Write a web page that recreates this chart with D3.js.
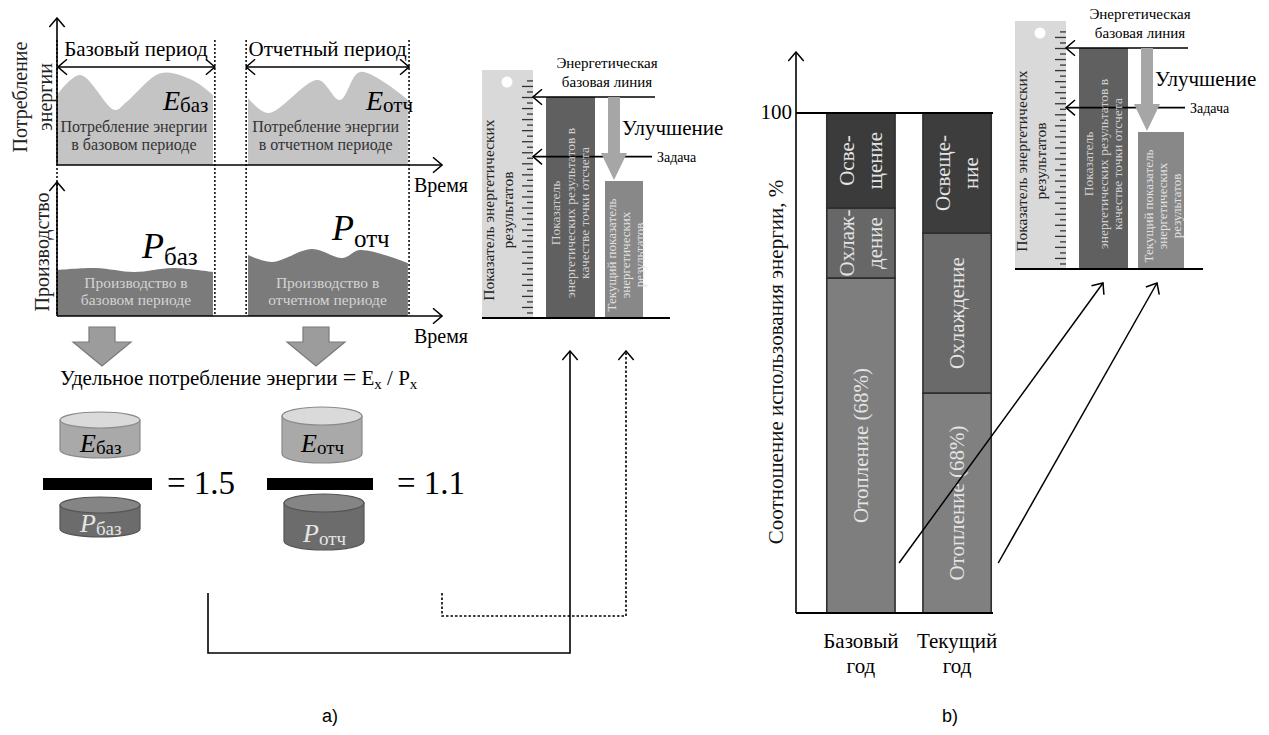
<!DOCTYPE html>
<html>
<head>
<meta charset="utf-8">
<script src="https://cdn.jsdelivr.net/npm/d3@7"></script>
<style>
  body { margin: 0; background: #fff; }
</style>
</head>
<body>
<svg id="chart" width="1269" height="735" font-family="'Liberation Serif', 'DejaVu Serif', serif"></svg>
<script>
// ---- data ----
var periods = ["Базовый период", "Отчетный период"];
var periodSpans = [[0, 40.9], [49, 91.2]];          // time units
var energyBase = [[0, 70], [6, 90], [15, 55], [18, 63], [27, 92], [35, 85], [40.4, 70]];
var energyRep  = [[49.5, 67], [54.7, 52], [67.6, 85], [73.3, 65], [78.5, 93], [90.9, 65]];
var prodBase   = [[0, 46], [10, 48], [20, 44], [30, 48], [40.4, 44]];
var prodRep    = [[49.5, 61], [55.7, 54], [66, 67], [74, 58], [78.5, 66], [90.9, 53]];
var ratios = [1.5, 1.1];
var epiLevels = [100, 73, 62];   // baseline, target, current
var years = ["Базовый год", "Текущий год"];
var uses = ["Отопление", "Охлаждение", "Освещение"];
var shareBase = [67, 14, 19];
var shareCur  = [44, 32, 24];
var labelsBase = [["Отопление (68%)"], ["Охлаж-", "дение"], ["Осве-", "щение"]];
var labelsCur  = [["Отопление (68%)"], ["Охлаждение"], ["Освеще-", "ние"]];

var svg = d3.select("#chart");

// open chevron arrow head
svg.append("defs").append("marker")
    .attr("id", "chev")
    .attr("viewBox", "0 0 11 17")
    .attr("refX", 10).attr("refY", 8.5)
    .attr("markerWidth", 11).attr("markerHeight", 17)
    .attr("markerUnits", "userSpaceOnUse")
    .attr("orient", "auto-start-reverse")
  .append("path")
    .attr("d", "M1,0.8 L10,8.5 L1,16.2")
    .attr("fill", "none").attr("stroke", "#000").attr("stroke-width", 1.5);

function line(g, pts, opts) {
  opts = opts || {};
  var p = g.append("path")
      .attr("d", d3.line()(pts))
      .attr("fill", "none")
      .attr("stroke", "#000")
      .attr("stroke-width", opts.w || 1.6);
  if (opts.dash) p.attr("stroke-dasharray", opts.dash);
  if (opts.end) p.attr("marker-end", "url(#chev)");
  if (opts.start) p.attr("marker-start", "url(#chev)");
  return p;
}

// rotated multi-line text, (cx, cy) = centre of the block
function vtext(g, cx, cy, lines, size, fill, lh) {
  var t = g.append("text")
      .attr("transform", "translate(" + cx + "," + cy + ") rotate(-90)")
      .attr("text-anchor", "middle")
      .style("font-size", size + "px")
      .attr("fill", fill);
  var n = lines.length;
  lines.forEach(function(l, i) {
    t.append("tspan").attr("x", 0).attr("y", (i - (n - 1) / 2) * lh)
      .attr("dy", "0.35em").text(l);
  });
  return t;
}

// ================= panel a =================
var a = svg.append("g");
var x = d3.scaleLinear().domain([0, 100]).range([57, 443]);
var yE = d3.scaleLinear().domain([0, 100]).range([165, 65]);
var yP = d3.scaleLinear().domain([0, 100]).range([316, 216]);

var areaE = d3.area().x(function(d) { return x(d[0]); })
    .y0(yE(0)).y1(function(d) { return yE(d[1]); })
    .curve(d3.curveCatmullRom.alpha(0.5));
var areaP = d3.area().x(function(d) { return x(d[0]); })
    .y0(yP(0)).y1(function(d) { return yP(d[1]); })
    .curve(d3.curveCatmullRom.alpha(0.5));

[energyBase, energyRep].forEach(function(s) {
  a.append("path").attr("d", areaE(s)).attr("fill", "#c4c4c4");
});
[prodBase, prodRep].forEach(function(s) {
  a.append("path").attr("d", areaP(s)).attr("fill", "#7b7b7b");
});

// dotted period borders
periodSpans.forEach(function(p) {
  p.forEach(function(t) {
    line(a, [[x(t), 40], [x(t), yP(0)]], {dash: "2,2", w: 1.5});
  });
});

// period arrows + labels
periodSpans.forEach(function(p, i) {
  var x0 = i === 0 ? x(0) + 1 : x(p[0]);
  line(a, [[x0, 67], [x(p[1]), 67]], {start: true, end: true, w: 1.6});
  a.append("text").attr("x", (x(p[0]) + x(p[1])) / 2).attr("y", 56)
    .attr("text-anchor", "middle").style("font-size", "21px").text(periods[i]);
});

// axes
line(a, [[x(0), yE(0)], [x(0), 18]], {end: true});
line(a, [[x(0), yE(0)], [x(100) - 1, yE(0)]], {end: true});
line(a, [[x(0), yP(0)], [x(0), 182]], {end: true});
line(a, [[x(0), yP(0)], [x(100) - 1, yP(0)]], {end: true});

a.append("text").attr("x", 414).attr("y", 192).style("font-size", "20px").text("Время");
a.append("text").attr("x", 414).attr("y", 343).style("font-size", "20px").text("Время");

vtext(a, 32, 97, ["Потребление", "энергии"], 20, "#222", 25);
vtext(a, 42, 252, ["Производство"], 20, "#222", 24);

// area captions
var capE = [["Потребление энергии", "в базовом периоде"], ["Потребление энергии", "в отчетном периоде"]];
var capP = [["Производство в", "базовом периоде"], ["Производство в", "отчетном периоде"]];
periodSpans.forEach(function(p, i) {
  var cx = (x(p[0]) + x(p[1])) / 2;
  capE[i].forEach(function(l, j) {
    a.append("text").attr("x", cx - 2).attr("y", 132 + j * 18).attr("text-anchor", "middle")
      .style("font-size", "16px").attr("fill", "#333").text(l);
  });
  capP[i].forEach(function(l, j) {
    a.append("text").attr("x", cx).attr("y", 288 + j * 17).attr("text-anchor", "middle")
      .style("font-size", "15.5px").attr("fill", "#d4d4d4").text(l);
  });
});

function symbol(g, xx, yy, letter, sub, big, small, dy, fill) {
  var t = g.append("text").attr("x", xx).attr("y", yy).attr("fill", fill || "#000");
  t.append("tspan").style("font-style", "italic").style("font-size", big + "px").text(letter);
  t.append("tspan").style("font-size", small + "px").attr("dy", dy).text(sub);
  return t;
}
symbol(a, 163, 110, "E", "баз", 28, 21, 2);
symbol(a, 366, 110, "E", "отч", 28, 21, 2);
symbol(a, 142, 258, "P", "баз", 36, 25, 7);
symbol(a, 332, 240, "P", "отч", 36, 25, 7);

// block arrows down
[102, 316].forEach(function(cx) {
  a.append("path")
    .attr("d", "M" + (cx - 13) + ",327 H" + (cx + 13) + " V342 H" + (cx + 29) +
          " L" + cx + ",366 L" + (cx - 29) + ",342 H" + (cx - 13) + " Z")
    .attr("fill", "#9c9c9c").attr("stroke", "#7a7a7a").attr("stroke-width", 1.2);
});

var formula = a.append("text").attr("x", 60).attr("y", 385).style("font-size", "21px");
formula.append("tspan").text("Удельное потребление энергии ");
formula.append("tspan").style("font-size", "24px").text("=");
formula.append("tspan").text(" E");
formula.append("tspan").style("font-size", "15px").attr("dy", 4).text("x");
formula.append("tspan").attr("dy", -4).text(" / P");
formula.append("tspan").style("font-size", "15px").attr("dy", 4).text("x");

function cylinder(g, cx, top, bot, rx, ry, body, lid, stroke) {
  g.append("path")
    .attr("d", "M" + (cx - rx) + "," + top + " V" + bot +
          " A" + rx + "," + ry + " 0 0 0 " + (cx + rx) + "," + bot +
          " V" + top + " Z")
    .attr("fill", body).attr("stroke", stroke).attr("stroke-width", 1.2);
  g.append("ellipse").attr("cx", cx).attr("cy", top).attr("rx", rx).attr("ry", ry)
    .attr("fill", lid).attr("stroke", stroke).attr("stroke-width", 1.2);
}
cylinder(a, 100, 420, 450, 40, 8, "#a9a9a9", "#dadada", "#8a8a8a");
cylinder(a, 322, 416, 454, 40, 9, "#a9a9a9", "#dadada", "#8a8a8a");
cylinder(a, 100, 505, 529, 40, 8, "#6c6c6c", "#858585", "#555");
cylinder(a, 324, 503, 541, 40, 9, "#6c6c6c", "#858585", "#555");

symbol(a, 80, 452, "E", "баз", 26, 19, 2);
symbol(a, 301, 452, "E", "отч", 26, 19, 2);
symbol(a, 80, 532, "P", "баз", 26, 19, 3, "#e6e6e6");
symbol(a, 303, 542, "P", "отч", 26, 19, 3, "#e6e6e6");

// fraction bars and ratio values
[[43, 152], [267, 373]].forEach(function(b, i) {
  a.append("rect").attr("x", b[0]).attr("y", 478).attr("width", b[1] - b[0]).attr("height", 12)
    .attr("fill", "#000");
  a.append("text").attr("x", b[1] + (i === 0 ? 15 : 24)).attr("y", 494)
    .style("font-size", "33px").text("= " + ratios[i].toFixed(1));
});

// ---- EnPI ruler diagram ----
function epi(g, ox, oy, curW) {
  var bottom = 318 + oy;
  var yR = d3.scaleLinear().domain([0, 100]).range([bottom, 97 + oy]);
  g.append("rect").attr("x", 482 + ox).attr("y", 70 + oy).attr("width", 51).attr("height", bottom - 70 - oy)
    .attr("fill", "#d9d9d9");
  g.append("circle").attr("cx", 507 + ox).attr("cy", 82 + oy).attr("r", 5.5).attr("fill", "#fff");

  var shortT = d3.range(2.5, 110, 5), longT = d3.range(5, 110, 5);
  [[shortT, 6], [longT, 11]].forEach(function(t) {
    var ax = g.append("g").attr("transform", "translate(" + (533 + ox) + ",0)")
      .call(d3.axisLeft(yR).tickValues(t[0]).tickSize(t[1]).tickFormat(""));
    ax.select(".domain").remove();
    ax.selectAll("line").attr("stroke", "#333").attr("stroke-width", 1.3);
  });

  g.append("rect").attr("x", 546 + ox).attr("y", yR(epiLevels[0])).attr("width", 49)
    .attr("height", bottom - yR(epiLevels[0])).attr("fill", "#606060");
  g.append("rect").attr("x", 605 + ox).attr("y", yR(epiLevels[2])).attr("width", curW)
    .attr("height", bottom - yR(epiLevels[2])).attr("fill", "#888");

  line(g, [[533 + ox, yR(epiLevels[0])], [655 + ox, yR(epiLevels[0])]], {start: true, w: 1.6});
  line(g, [[533 + ox, yR(epiLevels[1])], [652 + ox, yR(epiLevels[1])]], {start: true, w: 1.6});

  // improvement arrow
  var top = yR(epiLevels[0]), tip = yR(epiLevels[2]) - 1, hb = tip - 27, c = 614 + ox;
  g.append("path")
    .attr("d", "M" + (c - 6) + "," + top + " H" + (c + 6) + " V" + hb + " H" + (c + 13) +
          " L" + c + "," + tip + " L" + (c - 13) + "," + hb + " H" + (c - 6) + " Z")
    .attr("fill", "#a6a6a6");

  line(g, [[482 + ox, bottom], [670 + ox, bottom]], {w: 2});

  g.append("text").attr("x", 607 + ox).attr("y", 68 + oy).attr("text-anchor", "middle")
    .style("font-size", "15px").text("Энергетическая");
  g.append("text").attr("x", 607 + ox).attr("y", 87 + oy).attr("text-anchor", "middle")
    .style("font-size", "15px").text("базовая линия");
  g.append("text").attr("x", 622 + ox).attr("y", 135 + oy).style("font-size", "21px").text("Улучшение");
  g.append("text").attr("x", 657 + ox).attr("y", yR(epiLevels[1]) + 5).style("font-size", "14px").text("Задача");

  vtext(g, 498 + ox, 210 + oy, ["Показатель энергетических", "результатов"], 15.5, "#222", 19);
  vtext(g, 570 + ox, 213 + oy, ["Показатель", "энергетических результатов в", "качестве точки отсчета"], 13.5, "#d0d0d0", 14.5);
  vtext(g, 605 + ox + curW / 2 + 1, 255 + oy, ["Текущий показатель", "энергетических", "результатов"], 13, "#e2e2e2", 14);
}
epi(a, 0, 0, 38);

// connectors from the ratios to the EnPI bars
line(a, [[208, 593], [208, 653], [570, 653], [570, 351]], {end: true, w: 1.6});
line(a, [[442, 593], [442, 616], [626, 616], [626, 351]], {end: true, w: 1.6, dash: "2.5,2"});

a.append("text").attr("x", 330).attr("y", 722).attr("text-anchor", "middle")
  .style("font-family", "'Liberation Sans', Arial, sans-serif").style("font-size", "18px").text("a)");

// ================= panel b =================
var b = svg.append("g");
var xB = d3.scaleBand().domain(years).range([796, 1022]).paddingInner(0.29).paddingOuter(0.32);
var yB = d3.scaleLinear().domain([0, 100]).range([613, 113]);

var rows = years.map(function(yr, i) {
  var r = {year: yr};
  var s = i === 0 ? shareBase : shareCur;
  uses.forEach(function(u, j) { r[u] = s[j]; });
  return r;
});
var stack = d3.stack().keys(uses)(rows);
var fills = {"Отопление": ["#7e7e7e", "#808080"], "Охлаждение": ["#676767", "#6a6a6a"], "Освещение": ["#3b3b3b", "#3d3d3d"]};

stack.forEach(function(layer, j) {
  layer.forEach(function(d, i) {
    var x0 = xB(years[i]), w = xB.bandwidth();
    b.append("rect")
      .attr("x", x0).attr("y", yB(d[1])).attr("width", w).attr("height", yB(d[0]) - yB(d[1]))
      .attr("fill", fills[layer.key][i]).attr("stroke", "#2e2e2e").attr("stroke-width", 1.6);
    var lab = (i === 0 ? labelsBase : labelsCur)[j];
    vtext(b, x0 + w / 2, (yB(d[0]) + yB(d[1])) / 2, lab, 21, "#e4e4e4", 28);
  });
});

line(b, [[796, 613], [796, 52]], {end: true});
line(b, [[796, 613], [993, 613]], {w: 1.8});
line(b, [[796, yB(100)], [993, yB(100)]], {w: 1.8});
b.append("text").attr("x", 792).attr("y", 119).attr("text-anchor", "end").style("font-size", "21px").text("100");
vtext(b, 776, 362, ["Соотношение использования энергии, %"], 21, "#111", 24);

years.forEach(function(yr) {
  var parts = yr.split(" ");
  parts.forEach(function(p, k) {
    b.append("text").attr("x", xB(yr) + xB.bandwidth() / 2).attr("y", 648 + k * 25)
      .attr("text-anchor", "middle").style("font-size", "21px").text(p);
  });
});

epi(b, 533, -49, 46);

// links from bars to the second EnPI diagram
line(b, [[xB(years[0]) + xB.bandwidth() + 4, yB(10)], [1103, 283]], {end: true, w: 1.5});
line(b, [[xB(years[1]) + xB.bandwidth() + 7, yB(10)], [1157, 283]], {end: true, w: 1.5});

b.append("text").attr("x", 950).attr("y", 722).attr("text-anchor", "middle")
  .style("font-family", "'Liberation Sans', Arial, sans-serif").style("font-size", "18px").text("b)");
</script>
</body>
</html>
